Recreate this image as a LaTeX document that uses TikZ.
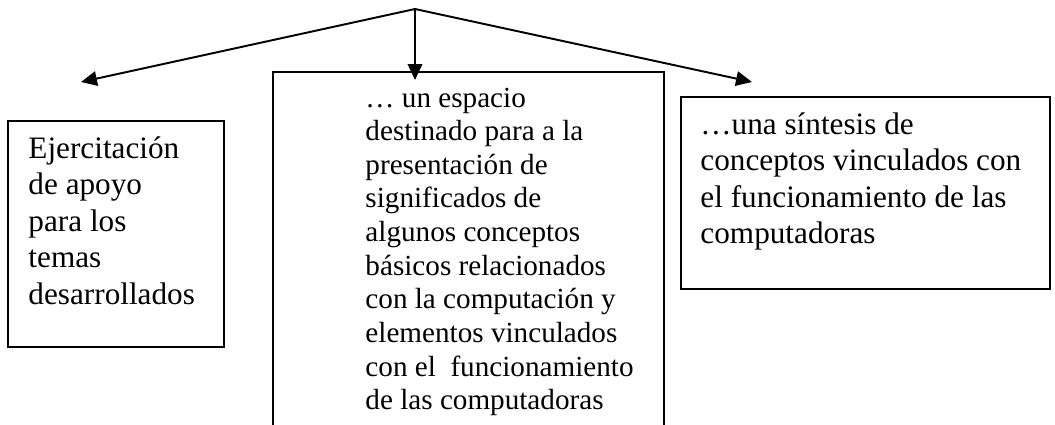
\documentclass[tikz,border=0pt]{standalone}
\usepackage{fontspec}
\setmainfont{Liberation Serif}
\usetikzlibrary{arrows.meta}
\begin{document}
\begin{tikzpicture}[x=0.4132pt,y=-0.4132pt,
  boxstyle/.style={draw, line width=0.8pt, inner sep=0pt, anchor=north west},
  arr/.style={-{Triangle[length=6.6pt,width=6pt]}, line width=0.8pt},
  sidetext/.style={font=\fontsize{12.9}{15.1}\selectfont, inner sep=0pt, anchor=base west},
  midtext/.style={font=\fontsize{12.05}{13.9}\selectfont, inner sep=0pt, anchor=base west}]
\useasboundingbox (0,0) rectangle (1055,424);
\clip (0,0) rectangle (1055,424);
% boxes
\node[boxstyle, minimum width=216*0.4132pt, minimum height=226*0.4132pt] (lbox) at (7,120) {};
\node[boxstyle, minimum width=391*0.4132pt, minimum height=380*0.4132pt] (mbox) at (272,71) {};
\node[boxstyle, minimum width=369*0.4132pt, minimum height=192*0.4132pt] (rbox) at (680,96) {};
% texts
\node[sidetext] (ltext) at (28,158) {\begin{tabular}[t]{@{}l@{}}Ejercitación\\de apoyo\\para los\\temas\\desarrollados\end{tabular}};
\node[midtext] (mtext) at (365,107) {\begin{tabular}[t]{@{}l@{}}… un espacio\\destinado para a la\\presentación de\\significados de\\algunos conceptos\\básicos relacionados\\con la computación y\\elementos vinculados\\con el~ funcionamiento\\de las computadoras\end{tabular}};
\node[sidetext] (rtext) at (700,134) {\begin{tabular}[t]{@{}l@{}}…una síntesis de\\conceptos vinculados con\\el funcionamiento de las\\computadoras\end{tabular}};
% arrows
\coordinate (apex) at (415,9);
\coordinate (ltip) at (81,82);
\coordinate (mtip) at (415,80);
\coordinate (rtip) at (752,82);
\draw[arr] (apex) -- (ltip);
\draw[arr] (apex) -- (mtip);
\draw[arr] (apex) -- (rtip);
\end{tikzpicture}
\end{document}
